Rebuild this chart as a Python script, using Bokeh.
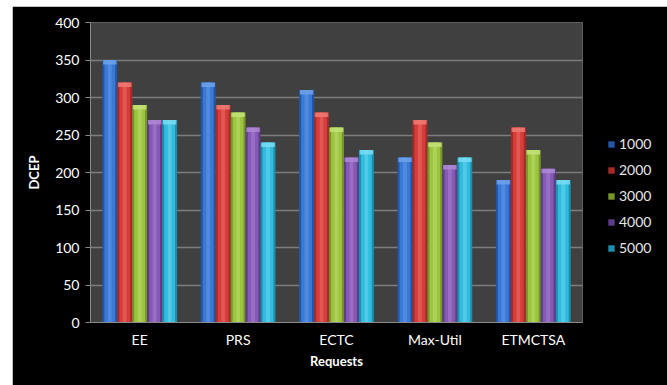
from bokeh.plotting import figure
from bokeh.models import (ColumnDataSource, FactorRange, Range1d, Legend, LegendItem,
                          SingleIntervalTicker, Spacer)
from bokeh.layouts import column, row
from bokeh.transform import dodge
from bokeh.embed import file_html
from bokeh.resources import INLINE

# Data: DCEP per scheduling approach for each request count
categories = ["EE", "PRS", "ECTC", "Max-Util", "ETMCTSA"]
series_names = ["1000", "2000", "3000", "4000", "5000"]
dcep_1000 = [350, 320, 310, 220, 190]
dcep_2000 = [320, 290, 280, 270, 260]
dcep_3000 = [290, 280, 260, 240, 230]
dcep_4000 = [270, 260, 220, 210, 205]
dcep_5000 = [270, 240, 230, 220, 190]
y_ticks = [0, 50, 100, 150, 200, 250, 300, 350, 400]

series_values = [dcep_1000, dcep_2000, dcep_3000, dcep_4000, dcep_5000]

# colour triples per series: edge shade, body, highlight
palette = [
    ("#2456a8", "#3a79d6", "#6fa2ea"),
    ("#a82a28", "#d63d3a", "#ee7a74"),
    ("#76962a", "#9dc43e", "#c4e27a"),
    ("#5e3d88", "#8659b5", "#ae8ad6"),
    ("#1d8fae", "#31bcdf", "#7adcf2"),
]

FONT = "Lato"
TEXT = "#ffffff"

p = figure(
    x_range=FactorRange(*categories, range_padding=0),
    y_range=Range1d(0, 400),
    frame_width=492, frame_height=300,
    min_border_left=78, min_border_right=81, min_border_top=16, min_border_bottom=63,
    output_backend="svg", toolbar_location=None,
    background_fill_color="#404040",
    border_fill_color="#000000",
)
p.outline_line_color = None

bar_w = 0.152
offsets = [-2 * bar_w, -bar_w, 0.0, bar_w, 2 * bar_w]
cap_units = 6  # height of the lighter bevel on top of each bar

legend_items = []
for name, vals, off, (edge, body, light) in zip(series_names, series_values, offsets, palette):
    src = ColumnDataSource(dict(
        cat=categories,
        top=vals,
        cap_bottom=[v - cap_units for v in vals],
    ))
    x = dodge("cat", off, range=p.x_range)
    base = p.vbar(x=x, top="top", bottom=0, width=bar_w, source=src,
                  fill_color=edge, line_color=None)
    p.vbar(x=x, top="top", bottom=0, width=bar_w * 0.72, source=src,
           fill_color=body, line_color=None)
    p.vbar(x=x, top="top", bottom=0, width=bar_w * 0.25, source=src,
           fill_color=light, fill_alpha=0.45, line_color=None)
    p.vbar(x=x, top="top", bottom="cap_bottom", width=bar_w * 0.9, source=src,
           fill_color=light, fill_alpha=0.85, line_color=None)
    legend_items.append(LegendItem(label=name, renderers=[base]))

# gridlines
p.xgrid.grid_line_color = None
p.ygrid.grid_line_color = "#7d7d7d"
p.ygrid.grid_line_width = 1.5
p.yaxis.ticker = SingleIntervalTicker(interval=50)

# axes
for ax in (p.xaxis[0], p.yaxis[0]):
    ax.axis_line_color = "#8a8a8a"
    ax.major_label_text_color = TEXT
    ax.major_label_text_font = FONT
    ax.major_label_text_font_size = "14px"
    ax.axis_label_text_color = TEXT
    ax.axis_label_text_font = FONT
    ax.axis_label_text_font_style = "bold"
    ax.axis_label_text_font_size = "13px"
    ax.minor_tick_line_color = None

p.yaxis.major_tick_line_color = "#8a8a8a"
p.yaxis.major_tick_out = 5
p.yaxis.major_tick_in = 0
p.yaxis.major_label_standoff = 6
p.yaxis.axis_label = "DCEP"
p.yaxis.axis_label_standoff = 10

p.xaxis.major_tick_line_color = None
p.xaxis.major_label_standoff = 2
p.xaxis.axis_label = "Requests"
p.xaxis.axis_label_standoff = 2

legend = Legend(items=legend_items, location=(25, 66))
legend.background_fill_alpha = 0
legend.border_line_alpha = 0
legend.label_text_color = "#e6e6e6"
legend.label_text_font = FONT
legend.label_text_font_size = "14px"
legend.glyph_width = 8
legend.glyph_height = 8
legend.label_height = 16
legend.spacing = 9
legend.padding = 0
legend.margin = 0
legend.label_standoff = 4
p.add_layout(legend, "right")

layout = column(Spacer(height=6), row(Spacer(width=12), p), styles={"background": "#ffffff"})

open("out.html", "w").write(file_html(layout, INLINE))
